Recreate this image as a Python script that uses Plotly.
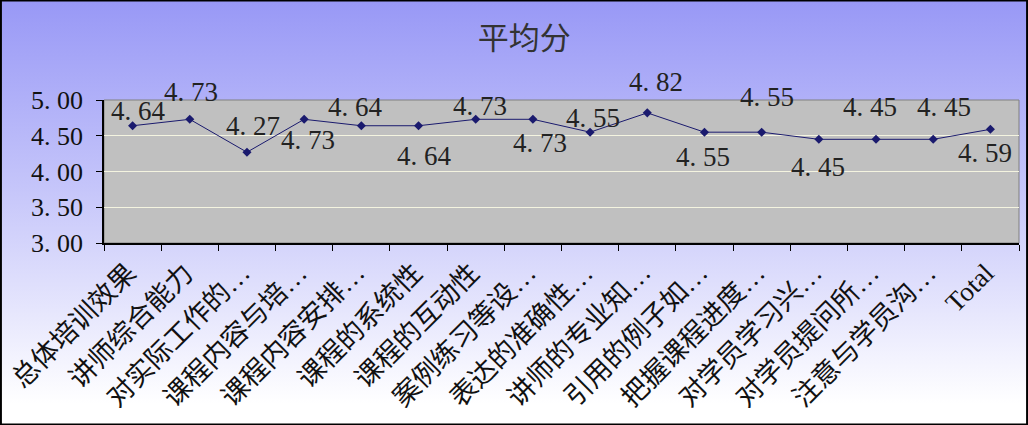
import base64
import plotly.graph_objects as go

# categories and scores
categories = ['总体培训效果', '讲师综合能力', '对实际工作的…', '课程内容与培…',
              '课程内容安排…', '课程的系统性', '课程的互动性', '案例练习等设…',
              '表达的准确性…', '讲师的专业知…', '引用的例子如…', '把握课程进度…',
              '对学员学习兴…', '对学员提问所…', '注意与学员沟…', 'Total']
scores = [4.64, 4.73, 4.27, 4.73, 4.64, 4.64, 4.73, 4.73,
          4.55, 4.82, 4.55, 4.55, 4.45, 4.45, 4.45, 4.59]
y_ticks = [3.0, 3.5, 4.0, 4.5, 5.0]

# where each data label sits relative to its point (px), as in the original
label_dx = [6, 1, 6, 4, -6, 6, 4, 7, 3, 9, -1, 5, -1, -6, 11, -5]
label_dy = [15, 27, 26, -21, 19, -30, 13, -24, 14, 31, -25, 35, -28, 32, 32, -24]

W, H = 1028, 425
L, R, T, B = 104, 9, 100, 182

# gradient background as an inline svg
svg = ('<svg xmlns="http://www.w3.org/2000/svg" width="100" height="100" preserveAspectRatio="none">'
       '<defs><linearGradient id="g" x1="0" y1="0" x2="0" y2="1">'
       '<stop offset="0" stop-color="#9898f6"/><stop offset="0.45" stop-color="#c6c6fa"/>'
       '<stop offset="0.95" stop-color="#ffffff"/></linearGradient></defs>'
       '<rect width="100" height="100" fill="url(#g)"/></svg>')
svg_uri = 'data:image/svg+xml;base64,' + base64.b64encode(svg.encode()).decode()

pw = W - L - R
ph = H - T - B

fig = go.Figure()
fig.add_trace(go.Scatter(
    x=categories, y=scores, mode='lines+markers',
    line=dict(color='#1a1a6e', width=1),
    marker=dict(symbol='diamond', size=7, color='#1a1a6e'),
    cliponaxis=False, showlegend=False,
))

annotations = []
# value labels
for c, v, dx, dy in zip(categories, scores, label_dx, label_dy):
    annotations.append(dict(
        x=c, y=v, xref='x', yref='y', text=f'{v:.2f}'.replace('.', '. '),
        showarrow=False, xshift=dx, yshift=dy, xanchor='center', yanchor='middle',
        font=dict(family='Liberation Serif, DejaVu Serif', size=27, color='#222'),
    ))
# rotated category labels
for c in categories:
    annotations.append(dict(
        x=c, y=0, xref='x', yref='paper', text=c, textangle=-45,
        showarrow=False, xanchor='right', yanchor='top', xshift=12, yshift=-12,
        font=dict(family='Liberation Serif, Noto Sans CJK SC', size=27, color='#111'),
    ))

fig.update_layout(
    width=W, height=H,
    margin=dict(l=L, r=R, t=T, b=B),
    paper_bgcolor='white', plot_bgcolor='rgba(0,0,0,0)',
    title=dict(text='平均分', x=0.51, xref='container', xanchor='center',
               y=0.91, yanchor='middle',
               font=dict(family='Noto Sans CJK SC', size=31, color='#333')),
    annotations=annotations,
    images=[dict(source=svg_uri, xref='paper', yref='paper',
                 x=-L / pw, y=1 + T / ph, sizex=W / pw, sizey=H / ph,
                 xanchor='left', yanchor='top', sizing='stretch', layer='below')],
    shapes=[
        dict(type='rect', xref='paper', yref='paper', x0=0, x1=1, y0=0, y1=1,
             fillcolor='#c0c0c0', line=dict(color='#808080', width=1), layer='below'),
        dict(type='rect', xref='paper', yref='paper',
             x0=-L / pw + 0.001, x1=1 + R / pw - 0.001,
             y0=-B / ph + 0.003, y1=1 + T / ph - 0.003,
             line=dict(color='black', width=2), fillcolor='rgba(0,0,0,0)', layer='above'),
    ],
)
fig.update_xaxes(
    type='category', categoryorder='array', categoryarray=categories,
    range=[-0.5, len(categories) - 0.5],
    showticklabels=False, showgrid=False, showline=True, linecolor='black', linewidth=1.5,
    ticks='outside', ticklen=6, tickcolor='black', tickson='boundaries',
)
fig.update_yaxes(
    range=[3.0, 5.0], tickvals=y_ticks, ticktext=[f'{v:.2f}'.replace('.', '. ') for v in y_ticks],
    showgrid=True, gridcolor='#f4f4e0', gridwidth=1,
    showline=True, linecolor='black', linewidth=1.5,
    ticks='outside', ticklen=6, tickcolor='black', ticklabelstandoff=8,
    tickfont=dict(family='Liberation Serif, DejaVu Serif', size=26, color='#111'),
    zeroline=False,
)

# drop the default page margin so the figure sits at the window corner
fig.write_html('out.html', config={'displayModeBar': False},
               post_script="document.body.style.margin='0';")
